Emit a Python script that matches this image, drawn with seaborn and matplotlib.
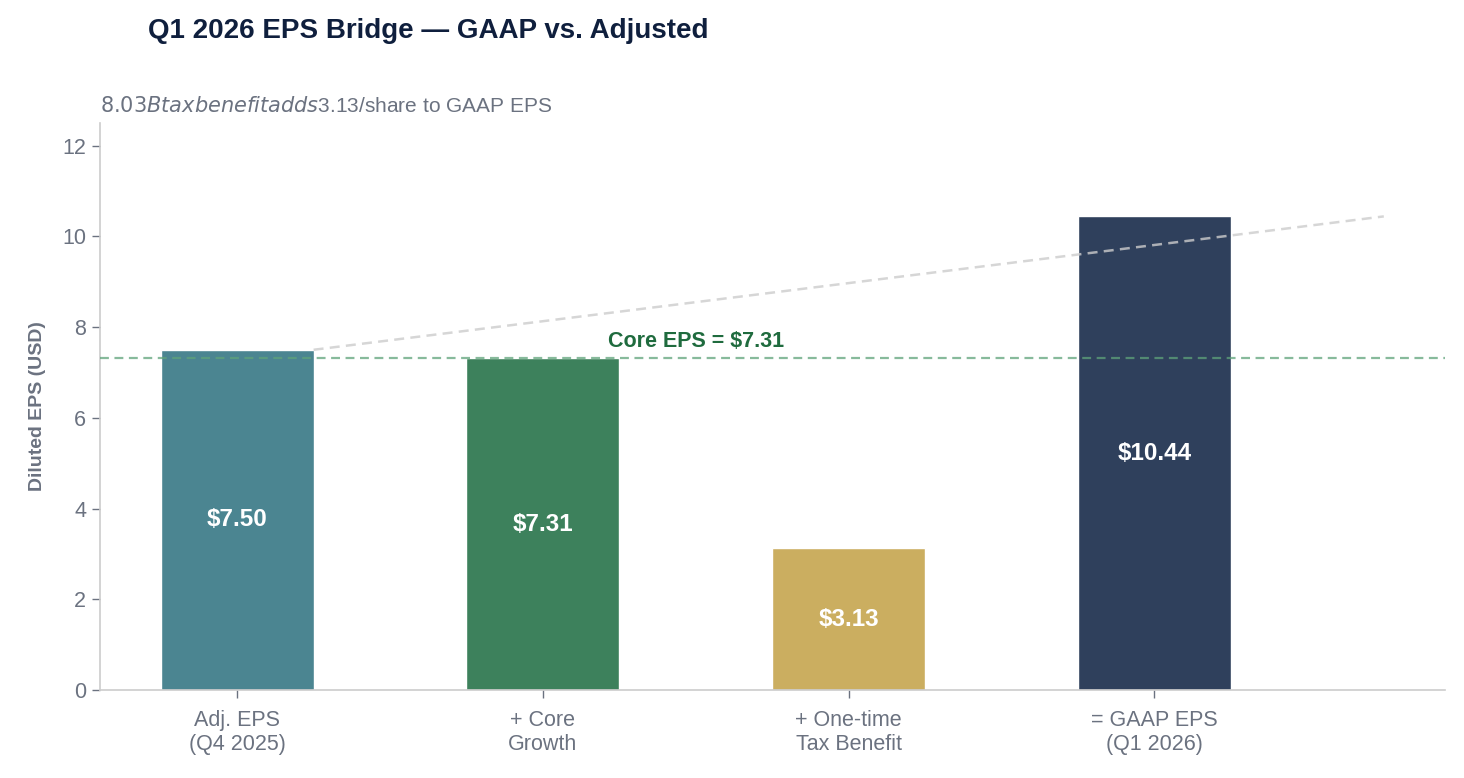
import matplotlib
matplotlib.use("Agg")
import matplotlib.pyplot as plt
import seaborn as sns
import pandas as pd

categories = ["Adj. EPS\n(Q4 2025)", "+ Core\nGrowth", "+ One-time\nTax Benefit", "= GAAP EPS\n(Q1 2026)"]
values = [7.50, 7.31, 3.13, 10.44]
labels = ["$7.50", "$7.31", "$3.13", "$10.44"]
colors = ["#4b8591", "#3d815c", "#cbae60", "#2f405c"]
core_eps = 7.31
yticks = [0, 2, 4, 6, 8, 10, 12]

sns.set_theme(style="white")
plt.rcParams["font.family"] = ["Liberation Sans", "DejaVu Sans"]

df = pd.DataFrame({"cat": categories, "val": values})

fig = plt.figure(figsize=(14.64, 7.78), dpi=100)
ax = fig.add_axes([0.068, 0.113, 0.919, 0.729])

sns.barplot(data=df, x="cat", y="val", hue="cat", palette=colors, width=0.5,
            legend=False, ax=ax, saturation=1)

# connector trend line
ax.plot([0.25, 3.75], [values[0], values[3]], color="#cccccc", lw=1.8,
        ls=(0, (4, 2.5)), alpha=0.8, zorder=3)

# core EPS reference line
ax.axhline(core_eps, color="#5fa37a", lw=1.6, ls=(0, (4, 2.5)), alpha=0.75, zorder=4)
ax.text(1.5, core_eps + 0.15, f"Core EPS = ${core_eps:.2f}", color="#1f6b3e",
        fontsize=15.5, fontweight="bold", ha="center", va="bottom")

for i, (v, lab) in enumerate(zip(values, labels)):
    ax.text(i, v / 2, lab, color="white", fontsize=17.5, fontweight="bold",
            ha="center", va="center", zorder=5)

ax.set_ylim(0, 12.5)
ax.set_yticks(yticks)
ax.set_xlabel("")
ax.set_ylabel("Diluted EPS (USD)", fontsize=14, fontweight="bold", color="#6b7280", labelpad=12)
ax.tick_params(axis="both", colors="#6b7280", labelsize=15.5, length=6, width=1,
               bottom=True, left=True)
ax.tick_params(axis="x", pad=8)
for lab in ax.get_xticklabels():
    lab.set_color("#6b7280")
for s in ["top", "right"]:
    ax.spines[s].set_visible(False)
for s in ["left", "bottom"]:
    ax.spines[s].set_color("#cccccc")
    ax.spines[s].set_linewidth(1.2)

ax.set_title("$8.03B tax benefit adds $3.13/share to GAAP EPS", loc="left",
             fontsize=15, color="#6b7280", pad=8)
fig.text(0.101, 0.96, "Q1 2026 EPS Bridge — GAAP vs. Adjusted", fontsize=20,
         fontweight="bold", color="#0f1f3d", ha="left", va="center")

fig.savefig("out.png", dpi=100)
